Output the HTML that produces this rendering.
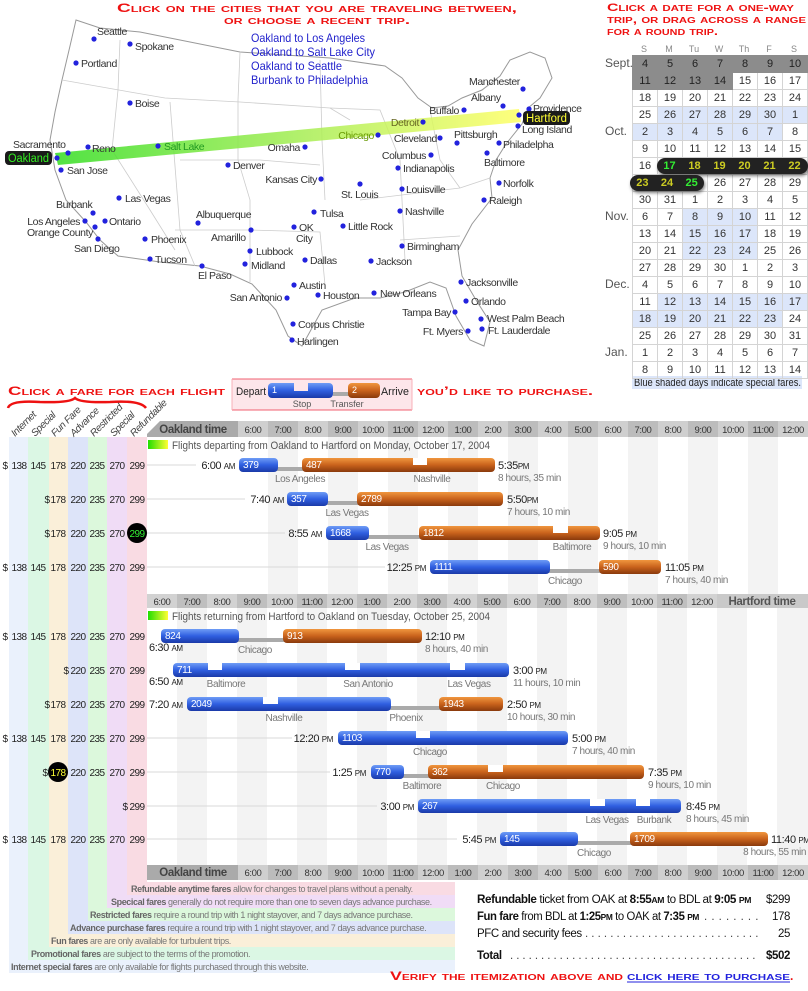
<!DOCTYPE html>
<html><head><meta charset="utf-8"><style>
html,body{margin:0;padding:0;background:#fff;width:808px;height:991px;overflow:hidden;position:relative}
svg{position:absolute;left:0;top:0;font-family:"Liberation Sans Narrow","Liberation Sans",sans-serif}
.cal{position:absolute;left:632px;top:55px;border-collapse:collapse;font-family:"Liberation Sans",sans-serif;font-size:11px;color:#333}
.cal td{width:24px;height:16px;padding:0;text-align:center;border:1px solid #d4d4d4;line-height:16px}
.cal td.d{background:#8c8c8c;border-color:#8c8c8c;color:#222}
.cal td.b{background:#dce6fa}
.pill{position:absolute;background:#222;border-radius:8px;height:16px;display:flex;font:bold 11px "Liberation Sans",sans-serif;box-shadow:1px 2px 3px rgba(0,0,0,.5)}
.pill span{width:25px;text-align:center;line-height:16px;color:#cccc22}
.pill span.g{color:#33ee33}
.mo{position:absolute;left:605px;font:12px "Liberation Sans",sans-serif;color:#555}
.map text{letter-spacing:-0.4px}
.cond text{letter-spacing:-0.4px}
</style></head><body>
<svg width="808" height="991" viewBox="0 0 808 991">
<defs>
<linearGradient id="bl" x1="0" y1="0" x2="0" y2="1"><stop offset="0" stop-color="#6f9cf5"/><stop offset=".5" stop-color="#2f5fe0"/><stop offset="1" stop-color="#1a3aa8"/></linearGradient>
<linearGradient id="or" x1="0" y1="0" x2="0" y2="1"><stop offset="0" stop-color="#f0963e"/><stop offset=".5" stop-color="#c9621c"/><stop offset="1" stop-color="#8a3a0c"/></linearGradient>
<linearGradient id="band" x1="0" y1="0" x2="1" y2="0"><stop offset="0" stop-color="#33dd22"/><stop offset=".55" stop-color="#aaee55"/><stop offset="1" stop-color="#ffff66"/></linearGradient>
<linearGradient id="gy" x1="0" y1="0" x2="1" y2="0"><stop offset="0" stop-color="#22dd00"/><stop offset="1" stop-color="#ffff33"/></linearGradient>
</defs>

<text x="317" y="12" text-anchor="middle" font-family="Liberation Sans" font-weight="bold" font-size="12" fill="#ee1111" style="font-variant:small-caps" textLength="400" lengthAdjust="spacingAndGlyphs">Click on the cities that you are traveling between,</text>
<text x="317" y="24" text-anchor="middle" font-family="Liberation Sans" font-weight="bold" font-size="12" fill="#ee1111" style="font-variant:small-caps" textLength="186" lengthAdjust="spacingAndGlyphs">or choose a recent trip.</text>
<path d="M76,20 L100,28 L140,32 L240,52 L330,58 L385,66 L402,78 L418,98 L432,108 L448,106 L462,98 L482,90 L500,76 L510,60 L530,52 L545,58 L552,78 L540,98 L528,108 L522,124 L506,144 L496,160 L490,178 L492,198 L472,224 L458,250 L462,276 L476,300 L490,322 L484,346 L470,340 L456,316 L446,288 L430,282 L405,292 L380,298 L355,298 L322,310 L302,346 L288,336 L276,310 L252,284 L230,274 L200,266 L160,262 L118,256 L100,240 L86,222 L66,200 L55,170 L50,140 L55,112 L62,80 L70,46 Z" fill="#fff" stroke="#999" stroke-width="1"/>
<g stroke="#ccc" stroke-width=".8" fill="none">
<path d="M62,80 L130,92 L165,98 L240,102 L330,108 L350,120"/>
<path d="M120,40 L118,90 L112,150 L150,210 L175,250"/>
<path d="M170,102 L180,230 L195,266"/>
<path d="M240,52 L238,100 L238,160 L250,200 L250,282"/>
<path d="M180,160 L260,160 L320,165"/>
<path d="M175,230 L250,230 L320,232 L325,285"/>
<path d="M320,60 L322,140 L325,200"/>
<path d="M330,108 L380,110 L400,160 L405,260"/>
<path d="M360,200 L460,188 L490,178"/>
<path d="M400,240 L460,236"/>
<path d="M430,110 L440,160 L460,188"/>
</g>
<polygon points="55,153 519,109 521,122 58,165" fill="url(#band)" opacity=".85"/>
<g class="map" font-size="10.5" fill="#333">
<g fill="#2222dd"><circle cx="94" cy="39" r="2.6"/><circle cx="130" cy="44" r="2.6"/><circle cx="76" cy="63" r="2.6"/><circle cx="130" cy="103" r="2.6"/><circle cx="68" cy="153" r="2.6"/><circle cx="88" cy="147" r="2.6"/><circle cx="158" cy="146" r="2.6"/><circle cx="57" cy="158" r="2.6"/><circle cx="61" cy="170" r="2.6"/><circle cx="228" cy="165" r="2.6"/><circle cx="305" cy="147" r="2.6"/><circle cx="378" cy="135" r="2.6"/><circle cx="423" cy="122" r="2.6"/><circle cx="440" cy="138" r="2.6"/><circle cx="464" cy="110" r="2.6"/><circle cx="503" cy="106" r="2.6"/><circle cx="523" cy="89" r="2.6"/><circle cx="529" cy="109" r="2.6"/><circle cx="519" cy="115" r="2.6"/><circle cx="518" cy="126" r="2.6"/><circle cx="457" cy="143" r="2.6"/><circle cx="499" cy="143" r="2.6"/><circle cx="487" cy="153" r="2.6"/><circle cx="431" cy="155" r="2.6"/><circle cx="398" cy="168" r="2.6"/><circle cx="321" cy="179" r="2.6"/><circle cx="360" cy="184" r="2.6"/><circle cx="402" cy="189" r="2.6"/><circle cx="499" cy="183" r="2.6"/><circle cx="484" cy="200" r="2.6"/><circle cx="119" cy="198" r="2.6"/><circle cx="93" cy="213" r="2.6"/><circle cx="85" cy="221" r="2.6"/><circle cx="105" cy="221" r="2.6"/><circle cx="95" cy="227" r="2.6"/><circle cx="98" cy="239" r="2.6"/><circle cx="145" cy="239" r="2.6"/><circle cx="150" cy="259" r="2.6"/><circle cx="198" cy="223" r="2.6"/><circle cx="251" cy="230" r="2.6"/><circle cx="250" cy="251" r="2.6"/><circle cx="245" cy="264" r="2.6"/><circle cx="202" cy="266" r="2.6"/><circle cx="314" cy="212" r="2.6"/><circle cx="294" cy="227" r="2.6"/><circle cx="343" cy="226" r="2.6"/><circle cx="305" cy="260" r="2.6"/><circle cx="400" cy="211" r="2.6"/><circle cx="402" cy="246" r="2.6"/><circle cx="371" cy="261" r="2.6"/><circle cx="294" cy="285" r="2.6"/><circle cx="287" cy="298" r="2.6"/><circle cx="318" cy="295" r="2.6"/><circle cx="374" cy="293" r="2.6"/><circle cx="461" cy="282" r="2.6"/><circle cx="466" cy="301" r="2.6"/><circle cx="455" cy="312" r="2.6"/><circle cx="481" cy="319" r="2.6"/><circle cx="468" cy="331" r="2.6"/><circle cx="482" cy="329" r="2.6"/><circle cx="293" cy="324" r="2.6"/><circle cx="292" cy="340" r="2.6"/></g>
<text x="97" y="35">Seattle</text><text x="135" y="50">Spokane</text><text x="81" y="67">Portland</text><text x="135" y="107">Boise</text>
<text x="13" y="148">Sacramento</text><text x="92" y="152">Reno</text><text x="164" y="150" fill="#229922">Salt Lake</text>
<text x="67" y="174">San Jose</text><text x="233" y="169">Denver</text><text x="300" y="151" text-anchor="end">Omaha</text>
<text x="374" y="139" text-anchor="end" fill="#669900">Chicago</text><text x="419" y="126" text-anchor="end" fill="#666622">Detroit</text>
<text x="437" y="142" text-anchor="end">Cleveland</text><text x="459" y="114" text-anchor="end">Buffalo</text>
<text x="471" y="101">Albany</text><text x="469" y="85">Manchester</text><text x="533" y="112">Providence</text>
<text x="522" y="133">Long Island</text><text x="454" y="138">Pittsburgh</text><text x="503" y="148">Philadelpha</text>
<text x="484" y="166">Baltimore</text><text x="426" y="159" text-anchor="end">Columbus</text><text x="403" y="172">Indianapolis</text>
<text x="317" y="183" text-anchor="end">Kansas City</text><text x="341" y="198">St. Louis</text><text x="406" y="193">Louisville</text>
<text x="503" y="187">Norfolk</text><text x="489" y="204">Raleigh</text><text x="125" y="202">Las Vegas</text>
<text x="56" y="208">Burbank</text><text x="80" y="225" text-anchor="end">Los Angeles</text><text x="109" y="225">Ontario</text>
<text x="93" y="236" text-anchor="end">Orange County</text><text x="74" y="252">San Diego</text><text x="151" y="243">Phoenix</text>
<text x="155" y="263">Tucson</text><text x="196" y="218">Albuquerque</text><text x="211" y="241">Amarillo</text>
<text x="256" y="255">Lubbock</text><text x="251" y="269">Midland</text><text x="198" y="279">El Paso</text>
<text x="320" y="217">Tulsa</text><text x="299" y="231">OK</text><text x="296" y="242">City</text><text x="348" y="230">Little Rock</text>
<text x="310" y="264">Dallas</text><text x="405" y="215">Nashville</text><text x="407" y="250">Birmingham</text>
<text x="376" y="265">Jackson</text><text x="299" y="289">Austin</text><text x="282" y="301" text-anchor="end">San Antonio</text>
<text x="323" y="299">Houston</text><text x="380" y="297">New Orleans</text><text x="466" y="286">Jacksonville</text>
<text x="471" y="305">Orlando</text><text x="451" y="316" text-anchor="end">Tampa Bay</text><text x="487" y="322">West Palm Beach</text>
<text x="463" y="335" text-anchor="end">Ft. Myers</text><text x="488" y="334">Ft. Lauderdale</text>
<text x="298" y="328">Corpus Christie</text><text x="297" y="345">Harlingen</text>
</g>
<rect x="5" y="151" width="47" height="14" rx="4" fill="#1a1a1a"/><text x="28.5" y="162" text-anchor="middle" font-size="11.5" fill="#33ee22" textLength="41" lengthAdjust="spacingAndGlyphs">Oakland</text>
<rect x="523" y="111" width="47" height="14" rx="4" fill="#1a1a1a"/><text x="546.5" y="122" text-anchor="middle" font-size="11.5" fill="#ffff33" textLength="41" lengthAdjust="spacingAndGlyphs">Hartford</text>
<g font-size="12" fill="#2222cc">
<text x="251" y="42" textLength="114" lengthAdjust="spacingAndGlyphs">Oakland to Los Angeles</text>
<text x="251" y="56" textLength="124" lengthAdjust="spacingAndGlyphs">Oakland to Salt Lake City</text>
<text x="251" y="70" textLength="91" lengthAdjust="spacingAndGlyphs">Oakland to Seattle</text>
<text x="251" y="84" textLength="117" lengthAdjust="spacingAndGlyphs">Burbank to Philadelphia</text></g>

<g font-family="Liberation Sans" font-weight="bold" font-size="11" fill="#ee1111" style="font-variant:small-caps">
<text x="607" y="11" textLength="187" lengthAdjust="spacingAndGlyphs">Click a date for a one-way</text>
<text x="607" y="23" textLength="199" lengthAdjust="spacingAndGlyphs">trip, or drag across a range</text>
<text x="607" y="35" textLength="111" lengthAdjust="spacingAndGlyphs">for a round trip.</text>
</g>
<g font-family="Liberation Sans" font-size="9" fill="#888" text-anchor="middle"><text x="644" y="52">S</text><text x="669" y="52">M</text><text x="694" y="52">Tu</text><text x="719" y="52">W</text><text x="744" y="52">Th</text><text x="769" y="52">F</text><text x="794" y="52">S</text></g>
<rect x="632" y="376" width="170" height="13" fill="#dce6fa"/>
<text x="634" y="386" font-size="11" fill="#222" textLength="167" lengthAdjust="spacingAndGlyphs">Blue shaded days indicate special fares.</text>

<g font-family="Liberation Sans" font-weight="bold" font-size="12" fill="#ee1111" style="font-variant:small-caps">
<text x="8" y="395" textLength="217" lengthAdjust="spacingAndGlyphs">Click a fare for each flight</text>
<text x="417" y="395" textLength="176" lengthAdjust="spacingAndGlyphs">you’d like to purchase.</text>
</g>
<path d="M8,408 Q10,400 40,402 Q70,403 75,398 Q80,403 110,402 Q140,400 146,408" fill="none" stroke="#e11" stroke-width="2.5"/>
<rect x="232" y="379" width="180" height="31" fill="#fde6ea"/>
<line x1="232" y1="379" x2="412" y2="379" stroke="#f06070"/><line x1="232" y1="410" x2="412" y2="410" stroke="#f06070"/>
<line x1="232" y1="379" x2="232" y2="410" stroke="#f8b0b8"/><line x1="412" y1="379" x2="412" y2="410" stroke="#f8b0b8"/>
<text x="236" y="395" font-size="11" fill="#222" textLength="30" lengthAdjust="spacingAndGlyphs">Depart</text><text x="381" y="395" font-size="11" fill="#222" textLength="28" lengthAdjust="spacingAndGlyphs">Arrive</text>
<rect x="333" y="392" width="16" height="4" fill="#aaa"/>
<rect x="268" y="383" width="65" height="15" rx="4" fill="url(#bl)"/><rect x="294" y="383" width="14" height="8" fill="#fde6ea"/>
<rect x="348" y="383" width="32" height="15" rx="4" fill="url(#or)"/>
<text x="272" y="393" font-size="9" fill="#fff">1</text><text x="352" y="393" font-size="9" fill="#fff">2</text>
<text x="302" y="407" font-size="9" fill="#555" text-anchor="middle">Stop</text><text x="347" y="407" font-size="9" fill="#555" text-anchor="middle">Transfer</text>

<rect x="9" y="437" width="19" height="536" fill="#eaf1fc"/>
<rect x="28" y="437" width="21" height="523" fill="#dbf7e4"/>
<rect x="49" y="437" width="19" height="510" fill="#faefd9"/>
<rect x="68" y="437" width="20" height="497" fill="#dde4f9"/>
<rect x="88" y="437" width="19" height="484" fill="#dcf8dc"/>
<rect x="107" y="437" width="20" height="471" fill="#f0dcf6"/>
<rect x="127" y="437" width="20" height="458" fill="#f9dbe3"/>
<rect x="127" y="882" width="328" height="13" fill="#f9dbe3"/>
<rect x="107" y="895" width="348" height="13" fill="#f0dcf6"/>
<rect x="88" y="908" width="367" height="13" fill="#dcf8dc"/>
<rect x="68" y="921" width="387" height="13" fill="#dde4f9"/>
<rect x="49" y="934" width="406" height="13" fill="#faefd9"/>
<rect x="28" y="947" width="427" height="13" fill="#dbf7e4"/>
<rect x="9" y="960" width="446" height="13" fill="#eaf1fc"/>
<g font-size="9" fill="#777" class="cond">
<text x="131" y="892"><tspan font-weight="bold" fill="#666">Refundable anytime fares</tspan> allow for changes to travel plans without a penalty.</text>
<text x="111" y="905"><tspan font-weight="bold" fill="#666">Specical fares</tspan> generally do not require more than one to seven days advance purchase.</text>
<text x="90" y="918"><tspan font-weight="bold" fill="#666">Restricted fares</tspan> require a round trip with 1 night stayover, and 7 days advance purchase.</text>
<text x="70" y="931"><tspan font-weight="bold" fill="#666">Advance purchase fares</tspan> require a round trip with 1 night stayover, and 7 days advance purchase.</text>
<text x="51" y="944"><tspan font-weight="bold" fill="#666">Fun fares</tspan> are are only available for turbulent trips.</text>
<text x="31" y="957"><tspan font-weight="bold" fill="#666">Promotional fares</tspan> are subject to the terms of the promotion.</text>
<text x="11" y="970"><tspan font-weight="bold" fill="#666">Internet special fares</tspan> are only available for flights purchased through this website.</text>
</g>
<g font-size="10" fill="#444" font-style="italic" class="cond">
<text transform="translate(15,437) rotate(-45)">Internet</text>
<text transform="translate(35,437) rotate(-45)">Special</text>
<text transform="translate(55,437) rotate(-45)">Fun Fare</text>
<text transform="translate(74,437) rotate(-45)">Advance</text>
<text transform="translate(94,437) rotate(-45)">Restricted</text>
<text transform="translate(114,437) rotate(-45)">Special</text>
<text transform="translate(134,437) rotate(-45)">Refundable</text>
</g>

<g fill="#f3f3f3">
<rect x="268" y="437" width="30" height="157"/><rect x="328" y="437" width="30" height="157"/><rect x="388" y="437" width="30" height="157"/><rect x="448" y="437" width="30" height="157"/><rect x="508" y="437" width="30" height="157"/><rect x="568" y="437" width="30" height="157"/><rect x="628" y="437" width="30" height="157"/><rect x="688" y="437" width="30" height="157"/><rect x="748" y="437" width="30" height="157"/>
<rect x="177" y="607" width="30" height="258"/><rect x="237" y="607" width="30" height="258"/><rect x="297" y="607" width="30" height="258"/><rect x="357" y="607" width="30" height="258"/><rect x="417" y="607" width="30" height="258"/><rect x="477" y="607" width="30" height="258"/><rect x="537" y="607" width="30" height="258"/><rect x="597" y="607" width="30" height="258"/><rect x="657" y="607" width="30" height="258"/><rect x="717" y="607" width="30" height="258"/><rect x="777" y="607" width="31" height="258"/>
</g>
<g>
<polygon points="160,421 238,421 238,437 147,437 147,434" fill="#aaa"/>
<rect x="238" y="421" width="570" height="16" fill="#cfcfcf"/>
<rect x="268" y="421" width="30" height="16" fill="#bcbcbc"/><rect x="328" y="421" width="30" height="16" fill="#bcbcbc"/><rect x="388" y="421" width="30" height="16" fill="#bcbcbc"/><rect x="448" y="421" width="30" height="16" fill="#bcbcbc"/><rect x="508" y="421" width="30" height="16" fill="#bcbcbc"/><rect x="568" y="421" width="30" height="16" fill="#bcbcbc"/><rect x="628" y="421" width="30" height="16" fill="#bcbcbc"/><rect x="688" y="421" width="30" height="16" fill="#bcbcbc"/><rect x="748" y="421" width="30" height="16" fill="#bcbcbc"/>
<rect x="147" y="594" width="661" height="14" fill="#d2d2d2"/>
<rect x="177" y="594" width="30" height="14" fill="#bfbfbf"/><rect x="237" y="594" width="30" height="14" fill="#bfbfbf"/><rect x="297" y="594" width="30" height="14" fill="#bfbfbf"/><rect x="357" y="594" width="30" height="14" fill="#bfbfbf"/><rect x="417" y="594" width="30" height="14" fill="#bfbfbf"/><rect x="477" y="594" width="30" height="14" fill="#bfbfbf"/><rect x="537" y="594" width="30" height="14" fill="#bfbfbf"/><rect x="597" y="594" width="30" height="14" fill="#bfbfbf"/><rect x="657" y="594" width="30" height="14" fill="#bfbfbf"/><rect x="717" y="594" width="91" height="14" fill="#c9c9c9"/>
<rect x="147" y="865" width="91" height="15" fill="#aaa"/>
<rect x="238" y="865" width="570" height="15" fill="#cfcfcf"/>
<rect x="268" y="865" width="30" height="15" fill="#bcbcbc"/><rect x="328" y="865" width="30" height="15" fill="#bcbcbc"/><rect x="388" y="865" width="30" height="15" fill="#bcbcbc"/><rect x="448" y="865" width="30" height="15" fill="#bcbcbc"/><rect x="508" y="865" width="30" height="15" fill="#bcbcbc"/><rect x="568" y="865" width="30" height="15" fill="#bcbcbc"/><rect x="628" y="865" width="30" height="15" fill="#bcbcbc"/><rect x="688" y="865" width="30" height="15" fill="#bcbcbc"/><rect x="748" y="865" width="30" height="15" fill="#bcbcbc"/>
</g>
<g font-size="9.5" fill="#333" text-anchor="middle" class="cond">
<text x="193" y="433" font-size="11.5" font-weight="bold" fill="#444">Oakland time</text>
<text x="253" y="433">6:00</text><text x="283" y="433">7:00</text><text x="313" y="433">8:00</text><text x="343" y="433">9:00</text><text x="373" y="433">10:00</text><text x="403" y="433">11:00</text><text x="433" y="433">12:00</text><text x="463" y="433">1:00</text><text x="493" y="433">2:00</text><text x="523" y="433">3:00</text><text x="553" y="433">4:00</text><text x="583" y="433">5:00</text><text x="613" y="433">6:00</text><text x="643" y="433">7:00</text><text x="673" y="433">8:00</text><text x="703" y="433">9:00</text><text x="733" y="433">10:00</text><text x="763" y="433">11:00</text><text x="793" y="433">12:00</text>
<text x="162" y="605">6:00</text><text x="192" y="605">7:00</text><text x="222" y="605">8:00</text><text x="252" y="605">9:00</text><text x="282" y="605">10:00</text><text x="312" y="605">11:00</text><text x="342" y="605">12:00</text><text x="372" y="605">1:00</text><text x="402" y="605">2:00</text><text x="432" y="605">3:00</text><text x="462" y="605">4:00</text><text x="492" y="605">5:00</text><text x="522" y="605">6:00</text><text x="552" y="605">7:00</text><text x="582" y="605">8:00</text><text x="612" y="605">9:00</text><text x="642" y="605">10:00</text><text x="672" y="605">11:00</text><text x="702" y="605">12:00</text>
<text x="762" y="605" font-size="11.5" font-weight="bold" fill="#555">Hartford time</text>
<text x="193" y="876" font-size="11.5" font-weight="bold" fill="#444">Oakland time</text>
<text x="253" y="876">6:00</text><text x="283" y="876">7:00</text><text x="313" y="876">8:00</text><text x="343" y="876">9:00</text><text x="373" y="876">10:00</text><text x="403" y="876">11:00</text><text x="433" y="876">12:00</text><text x="463" y="876">1:00</text><text x="493" y="876">2:00</text><text x="523" y="876">3:00</text><text x="553" y="876">4:00</text><text x="583" y="876">5:00</text><text x="613" y="876">6:00</text><text x="643" y="876">7:00</text><text x="673" y="876">8:00</text><text x="703" y="876">9:00</text><text x="733" y="876">10:00</text><text x="763" y="876">11:00</text><text x="793" y="876">12:00</text>
</g>
<rect x="148" y="440" width="20" height="9" fill="url(#gy)"/>
<text x="172" y="449" font-size="11" fill="#555" textLength="318" lengthAdjust="spacingAndGlyphs">Flights departing from Oakland to Hartford on Monday, October 17, 2004</text>
<rect x="148" y="611" width="20" height="9" fill="url(#gy)"/>
<text x="172" y="620" font-size="11" fill="#555" textLength="318" lengthAdjust="spacingAndGlyphs">Flights returning from Hartford to Oakland on Tuesday, October 25, 2004</text>

<g stroke="#d8d8d8" stroke-width="1">
<line x1="147" y1="465" x2="196" y2="465"/><line x1="147" y1="499" x2="245" y2="499"/><line x1="147" y1="533" x2="285" y2="533"/><line x1="147" y1="567" x2="385" y2="567"/>
<line x1="147" y1="738" x2="292" y2="738"/><line x1="147" y1="772" x2="330" y2="772"/><line x1="147" y1="806" x2="377" y2="806"/><line x1="147" y1="839" x2="457" y2="839"/>
</g>
<g fill="#aaa">
<rect x="276" y="467" width="28" height="4"/><rect x="326" y="501" width="33" height="4"/><rect x="367" y="535" width="54" height="4"/><rect x="548" y="569" width="53" height="4"/>
<rect x="237" y="638" width="48" height="4"/><rect x="389" y="706" width="52" height="4"/><rect x="402" y="774" width="28" height="4"/><rect x="576" y="841" width="56" height="4"/>
</g>
<g>
<rect x="239" y="458" width="39" height="14" rx="4" fill="url(#bl)"/><rect x="302" y="458" width="193" height="14" rx="4" fill="url(#or)"/><rect x="413" y="458" width="14" height="7" fill="#fff"/>
<rect x="287" y="492" width="41" height="14" rx="4" fill="url(#bl)"/><rect x="357" y="492" width="146" height="14" rx="4" fill="url(#or)"/>
<rect x="326" y="526" width="43" height="14" rx="4" fill="url(#bl)"/><rect x="419" y="526" width="181" height="14" rx="4" fill="url(#or)"/><rect x="553" y="526" width="15" height="7" fill="#fff"/>
<rect x="430" y="560" width="120" height="14" rx="4" fill="url(#bl)"/><rect x="599" y="560" width="62" height="14" rx="4" fill="url(#or)"/>
<rect x="161" y="629" width="78" height="14" rx="4" fill="url(#bl)"/><rect x="283" y="629" width="139" height="14" rx="4" fill="url(#or)"/>
<rect x="173" y="663" width="336" height="14" rx="4" fill="url(#bl)"/><rect x="208" y="663" width="14" height="7" fill="#fff"/><rect x="345" y="663" width="15" height="7" fill="#fff"/><rect x="450" y="663" width="15" height="7" fill="#fff"/>
<rect x="187" y="697" width="204" height="14" rx="4" fill="url(#bl)"/><rect x="263" y="697" width="15" height="7" fill="#fff"/><rect x="439" y="697" width="64" height="14" rx="4" fill="url(#or)"/>
<rect x="338" y="731" width="230" height="14" rx="4" fill="url(#bl)"/><rect x="416" y="731" width="14" height="7" fill="#fff"/>
<rect x="371" y="765" width="33" height="14" rx="4" fill="url(#bl)"/><rect x="428" y="765" width="216" height="14" rx="4" fill="url(#or)"/><rect x="488" y="765" width="15" height="7" fill="#fff"/>
<rect x="418" y="799" width="263" height="14" rx="4" fill="url(#bl)"/><rect x="590" y="799" width="15" height="7" fill="#fff"/><rect x="636" y="799" width="14" height="7" fill="#fff"/>
<rect x="500" y="832" width="78" height="14" rx="4" fill="url(#bl)"/><rect x="630" y="832" width="138" height="14" rx="4" fill="url(#or)"/>
</g>
<g font-size="10" fill="#fff" class="cond">
<text x="243" y="468">379</text><text x="306" y="468">487</text><text x="291" y="502">357</text><text x="361" y="502">2789</text>
<text x="330" y="536">1668</text><text x="423" y="536">1812</text><text x="434" y="570">1111</text><text x="603" y="570">590</text>
<text x="165" y="639">824</text><text x="287" y="639">913</text><text x="177" y="673">711</text><text x="191" y="707">2049</text><text x="443" y="707">1943</text>
<text x="342" y="741">1103</text><text x="375" y="775">770</text><text x="432" y="775">362</text><text x="422" y="809">267</text>
<text x="504" y="842">145</text><text x="634" y="842">1709</text>
</g>
<g font-size="10" fill="#777" text-anchor="middle" class="cond">
<text x="300" y="482">Los Angeles</text><text x="432" y="482">Nashville</text><text x="347" y="516">Las Vegas</text><text x="387" y="550">Las Vegas</text><text x="572" y="550">Baltimore</text><text x="565" y="584">Chicago</text>
<text x="255" y="653">Chicago</text><text x="226" y="687">Baltimore</text><text x="368" y="687">San Antonio</text><text x="469" y="687">Las Vegas</text>
<text x="284" y="721">Nashville</text><text x="406" y="721">Phoenix</text><text x="430" y="755">Chicago</text><text x="422" y="789">Baltimore</text><text x="503" y="789">Chicago</text>
<text x="607" y="823">Las Vegas</text><text x="654" y="823">Burbank</text><text x="594" y="856">Chicago</text>
</g>
<g font-size="11" fill="#222" class="cond">
<text x="235" y="469" text-anchor="end">6:00 <tspan font-size="8">AM</tspan></text>
<text x="284" y="503" text-anchor="end">7:40 <tspan font-size="8">AM</tspan></text>
<text x="322" y="537" text-anchor="end">8:55 <tspan font-size="8">AM</tspan></text>
<text x="426" y="571" text-anchor="end">12:25 <tspan font-size="8">PM</tspan></text>
<text x="498" y="469">5:35<tspan font-size="8">PM</tspan></text>
<text x="507" y="503">5:50<tspan font-size="8">PM</tspan></text>
<text x="603" y="537">9:05 <tspan font-size="8">PM</tspan></text>
<text x="665" y="571">11:05 <tspan font-size="8">PM</tspan></text>
<text x="149" y="651">6:30 <tspan font-size="8">AM</tspan></text>
<text x="149" y="685">6:50 <tspan font-size="8">AM</tspan></text>
<text x="149" y="708">7:20 <tspan font-size="8">AM</tspan></text>
<text x="333" y="742" text-anchor="end">12:20 <tspan font-size="8">PM</tspan></text>
<text x="366" y="776" text-anchor="end">1:25 <tspan font-size="8">PM</tspan></text>
<text x="414" y="810" text-anchor="end">3:00 <tspan font-size="8">PM</tspan></text>
<text x="496" y="843" text-anchor="end">5:45 <tspan font-size="8">PM</tspan></text>
<text x="425" y="640">12:10 <tspan font-size="8">PM</tspan></text>
<text x="513" y="674">3:00 <tspan font-size="8">PM</tspan></text>
<text x="507" y="708">2:50 <tspan font-size="8">PM</tspan></text>
<text x="572" y="742">5:00 <tspan font-size="8">PM</tspan></text>
<text x="648" y="776">7:35 <tspan font-size="8">PM</tspan></text>
<text x="686" y="810">8:45 <tspan font-size="8">PM</tspan></text>
<text x="771" y="843">11:40 <tspan font-size="8">PM</tspan></text>
</g>
<g font-size="10" fill="#777" class="cond">
<text x="498" y="481">8 hours, 35 min</text><text x="507" y="515">7 hours, 10 min</text><text x="603" y="549">9 hours, 10 min</text><text x="665" y="583">7 hours, 40 min</text>
<text x="425" y="652">8 hours, 40 min</text><text x="513" y="686">11 hours, 10 min</text><text x="507" y="720">10 hours, 30 min</text><text x="572" y="754">7 hours, 40 min</text>
<text x="648" y="788">9 hours, 10 min</text><text x="686" y="822">8 hours, 45 min</text><text x="806" y="855" text-anchor="end">8 hours, 55 min</text>
</g>
<circle cx="137" cy="533" r="10" fill="#000"/><circle cx="58" cy="772" r="10" fill="#000"/>
<g font-size="10" fill="#222" text-anchor="middle" style="letter-spacing:-0.6px">
<g transform="translate(0,469)"><text x="5">$</text><text x="19">138</text><text x="38">145</text><text x="58">178</text><text x="78">220</text><text x="97">235</text><text x="117">270</text><text x="137">299</text></g>
<g transform="translate(0,503)"><text x="47">$</text><text x="58">178</text><text x="78">220</text><text x="97">235</text><text x="117">270</text><text x="137">299</text></g>
<g transform="translate(0,537)"><text x="47">$</text><text x="58">178</text><text x="78">220</text><text x="97">235</text><text x="117">270</text><text x="137" fill="#33ee33">299</text></g>
<g transform="translate(0,571)"><text x="5">$</text><text x="19">138</text><text x="38">145</text><text x="58">178</text><text x="78">220</text><text x="97">235</text><text x="117">270</text><text x="137">299</text></g>
<g transform="translate(0,640)"><text x="5">$</text><text x="19">138</text><text x="38">145</text><text x="58">178</text><text x="78">220</text><text x="97">235</text><text x="117">270</text><text x="137">299</text></g>
<g transform="translate(0,674)"><text x="66">$</text><text x="78">220</text><text x="97">235</text><text x="117">270</text><text x="137">299</text></g>
<g transform="translate(0,708)"><text x="47">$</text><text x="58">178</text><text x="78">220</text><text x="97">235</text><text x="117">270</text><text x="137">299</text></g>
<g transform="translate(0,742)"><text x="5">$</text><text x="19">138</text><text x="38">145</text><text x="58">178</text><text x="78">220</text><text x="97">235</text><text x="117">270</text><text x="137">299</text></g>
<g transform="translate(0,776)"><text x="45">$</text><text x="58" fill="#ffff33">178</text><text x="78">220</text><text x="97">235</text><text x="117">270</text><text x="137">299</text></g>
<g transform="translate(0,810)"><text x="125">$</text><text x="137">299</text></g>
<g transform="translate(0,843)"><text x="5">$</text><text x="19">138</text><text x="38">145</text><text x="58">178</text><text x="78">220</text><text x="97">235</text><text x="117">270</text><text x="137">299</text></g>
</g>

<g font-size="11.5" fill="#111" class="cond">
<text x="477" y="903" textLength="274" lengthAdjust="spacingAndGlyphs"><tspan font-weight="bold">Refundable</tspan> ticket from OAK at <tspan font-weight="bold">8:55<tspan font-size="8.5">AM</tspan></tspan> to BDL at <tspan font-weight="bold">9:05 <tspan font-size="8.5">PM</tspan></tspan></text>
<text x="790" y="903" text-anchor="end">$299</text>
<text x="477" y="920" textLength="222" lengthAdjust="spacingAndGlyphs"><tspan font-weight="bold">Fun fare</tspan> from BDL at <tspan font-weight="bold">1:25<tspan font-size="8.5">PM</tspan></tspan> to OAK at <tspan font-weight="bold">7:35 <tspan font-size="8.5">PM</tspan></tspan></text>
<text x="704" y="920" fill="#444" textLength="54" lengthAdjust="spacing">........</text>
<text x="790" y="920" text-anchor="end">178</text>
<text x="477" y="937">PFC and security fees</text>
<text x="585" y="937" fill="#444" textLength="173" lengthAdjust="spacing">............................</text>
<text x="790" y="937" text-anchor="end">25</text>
<text x="477" y="959" font-weight="bold">Total</text>
<text x="510" y="959" fill="#444" textLength="245" lengthAdjust="spacing">........................................</text>
<text x="790" y="959" text-anchor="end" font-weight="bold">$502</text>
</g>
<g font-family="Liberation Sans" font-weight="bold" font-size="12" style="font-variant:small-caps">
<text x="390" y="980" fill="#ee1111" textLength="233" lengthAdjust="spacingAndGlyphs">Verify the itemization above and</text>
<text x="627" y="980" fill="#2222dd" textLength="163" lengthAdjust="spacingAndGlyphs">click here to purchase</text>
<text x="790" y="980" fill="#ee1111">.</text>
</g>
<line x1="627" y1="982" x2="790" y2="982" stroke="#2222dd"/>
</svg>

<div class="mo" style="top:56px">Sept.</div>
<div class="mo" style="top:124px">Oct.</div>
<div class="mo" style="top:209px">Nov.</div>
<div class="mo" style="top:277px">Dec.</div>
<div class="mo" style="top:345px">Jan.</div>
<table class="cal">
<tr><td class="d">4</td><td class="d">5</td><td class="d">6</td><td class="d">7</td><td class="d">8</td><td class="d">9</td><td class="d">10</td></tr>
<tr><td class="d">11</td><td class="d">12</td><td class="d">13</td><td class="d">14</td><td>15</td><td>16</td><td>17</td></tr>
<tr><td>18</td><td>19</td><td>20</td><td>21</td><td>22</td><td>23</td><td>24</td></tr>
<tr><td>25</td><td class="b">26</td><td class="b">27</td><td class="b">28</td><td class="b">29</td><td class="b">30</td><td class="b">1</td></tr>
<tr><td class="b">2</td><td class="b">3</td><td class="b">4</td><td class="b">5</td><td class="b">6</td><td class="b">7</td><td>8</td></tr>
<tr><td>9</td><td>10</td><td>11</td><td>12</td><td>13</td><td>14</td><td>15</td></tr>
<tr><td>16</td><td>17</td><td>18</td><td>19</td><td>20</td><td>21</td><td>22</td></tr>
<tr><td>23</td><td>24</td><td>25</td><td>26</td><td>27</td><td>28</td><td>29</td></tr>
<tr><td>30</td><td>31</td><td>1</td><td>2</td><td>3</td><td>4</td><td>5</td></tr>
<tr><td>6</td><td>7</td><td class="b">8</td><td class="b">9</td><td class="b">10</td><td>11</td><td>12</td></tr>
<tr><td>13</td><td>14</td><td class="b">15</td><td class="b">16</td><td class="b">17</td><td>18</td><td>19</td></tr>
<tr><td>20</td><td>21</td><td class="b">22</td><td class="b">23</td><td class="b">24</td><td>25</td><td>26</td></tr>
<tr><td>27</td><td>28</td><td>29</td><td>30</td><td>1</td><td>2</td><td>3</td></tr>
<tr><td>4</td><td>5</td><td>6</td><td>7</td><td>8</td><td>9</td><td>10</td></tr>
<tr><td>11</td><td class="b">12</td><td class="b">13</td><td class="b">14</td><td class="b">15</td><td class="b">16</td><td class="b">17</td></tr>
<tr><td class="b">18</td><td class="b">19</td><td class="b">20</td><td class="b">21</td><td class="b">22</td><td class="b">23</td><td>24</td></tr>
<tr><td>25</td><td>26</td><td>27</td><td>28</td><td>29</td><td>30</td><td>31</td></tr>
<tr><td>1</td><td>2</td><td>3</td><td>4</td><td>5</td><td>6</td><td>7</td></tr>
<tr><td>8</td><td>9</td><td>10</td><td>11</td><td>12</td><td>13</td><td>14</td></tr>
</table>
<div class="pill" style="left:657px;top:158px;width:151px"><span class="g">17</span><span>18</span><span>19</span><span>20</span><span>21</span><span>22</span></div>
<div class="pill" style="left:630px;top:175px;width:74px"><span>23</span><span>24</span><span class="g">25</span></div>
</body></html>
